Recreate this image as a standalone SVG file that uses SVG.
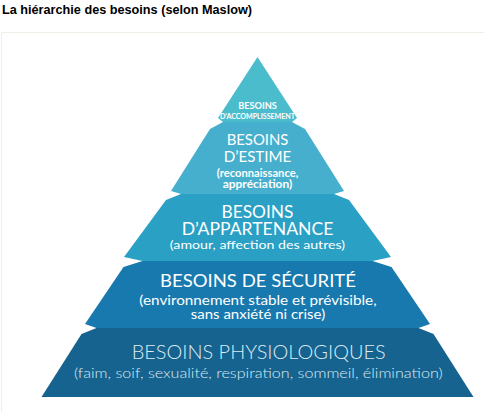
<svg xmlns="http://www.w3.org/2000/svg" width="484" height="412" viewBox="0 0 484 412">
<style>
.t{font-family:Lato,"Open Sans","Liberation Sans",sans-serif;fill:#ffffff;text-anchor:middle}
.b{font-weight:bold}
.l{font-weight:300;fill:#dcecf3}
</style>
<rect width="484" height="412" fill="#ffffff"/>
<text x="2" y="13.5" font-family="'Liberation Sans',Arial,sans-serif" font-weight="bold" font-size="13" fill="#000000" textLength="250" lengthAdjust="spacingAndGlyphs">La hiérarchie des besoins (selon Maslow)</text>
<rect x="1.5" y="32.5" width="500" height="400" fill="none" stroke="#efefe8" stroke-width="1"/>
<g id="accomplissement">
<polygon points="257.5,57 297,118 292,122 223,122 218,118" fill="#4bbccc"/>
<text class="t b" x="257.5" y="109.3" font-size="9.5" textLength="38.7" lengthAdjust="spacingAndGlyphs">BESOINS</text>
<text class="t b" x="257.5" y="118.6" font-size="6.5" textLength="75" lengthAdjust="spacingAndGlyphs">D’ACCOMPLISSEMENT</text>
</g>
<g id="estime">
<polygon points="223,122 292,122 305,129 344,191 334,194 181,194 171,191 210,129" fill="#46afcd"/>
<text class="t" x="257.5" y="145.2" font-size="15" textLength="61.7" lengthAdjust="spacingAndGlyphs">BESOINS</text>
<text class="t" x="257.5" y="162.3" font-size="15" textLength="67.7" lengthAdjust="spacingAndGlyphs">D’ESTIME</text>
<text class="t b" x="257.5" y="177.3" font-size="10.5" textLength="81.7" lengthAdjust="spacingAndGlyphs">(reconnaissance,</text>
<text class="t b" x="257.5" y="187.5" font-size="10.5" textLength="69.7" lengthAdjust="spacingAndGlyphs">appréciation)</text>
</g>
<g id="appartenance">
<polygon points="181,194 334,194 349,200 391,257 372.5,261 142.5,261 124,257 166,200" fill="#2aa0c5"/>
<text class="t" x="257.5" y="217.5" font-size="16.5" textLength="72" lengthAdjust="spacingAndGlyphs">BESOINS</text>
<text class="t" x="257.5" y="235" font-size="16.5" textLength="151.7" lengthAdjust="spacingAndGlyphs">D’APPARTENANCE</text>
<text class="t" x="257.5" y="248.5" font-size="12" textLength="175.3" lengthAdjust="spacingAndGlyphs">(amour, affection des autres)</text>
</g>
<g id="securite">
<polygon points="142.5,261 372.5,261 391.5,267 430,324 418.5,328 96.5,328 85,324 123.5,267" fill="#1879ae"/>
<text class="t" x="258" y="287.3" font-size="18" textLength="196" lengthAdjust="spacingAndGlyphs">BESOINS DE SÉCURITÉ</text>
<text class="t" x="258" y="305" font-size="14" textLength="237.3" lengthAdjust="spacingAndGlyphs">(environnement stable et prévisible,</text>
<text class="t" x="258" y="319.3" font-size="14" textLength="134.3" lengthAdjust="spacingAndGlyphs">sans anxiété ni crise)</text>
</g>
<g id="physiologiques">
<polygon points="96.5,328 418.5,328 433.5,334 473.5,397 41.5,397 81.5,334" fill="#16638f"/>
<text class="t l" x="258.7" y="359.3" font-size="19.5" textLength="254" lengthAdjust="spacingAndGlyphs">BESOINS PHYSIOLOGIQUES</text>
<text class="t l" x="258.3" y="378.3" font-size="14.5" textLength="368.7" lengthAdjust="spacingAndGlyphs">(faim, soif, sexualité, respiration, sommeil, élimination)</text>
</g>
<g id="connectors"/>
</svg>
